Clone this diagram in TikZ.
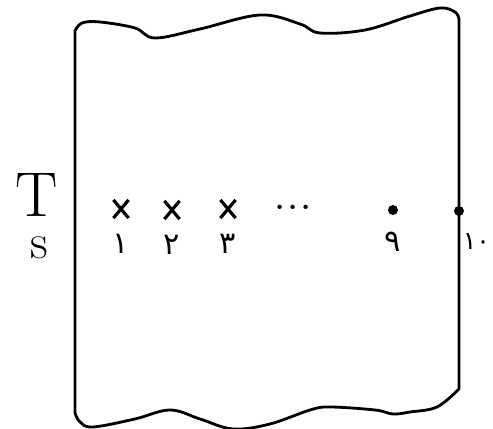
\documentclass[tikz,border=0pt]{standalone}
\usepackage{fontspec}
\usepackage{tikz}
\usetikzlibrary{shapes.misc,positioning}
\newfontfamily\arabicfont[Script=Arabic]{DejaVu Sans}
\tikzset{
  sheet/.style={draw=black,line width=1.6pt,line join=round,line cap=round},
  crossmark/.style={cross out,draw=black,line width=1.8pt,
                    minimum width=0.24cm,minimum height=0.3cm,inner sep=0pt},
  dotmark/.style={circle,fill=black,minimum size=0.2cm,inner sep=0pt},
  digit/.style={font=\arabicfont\LARGE,inner sep=1pt},
  letter/.style={inner sep=0pt,align=left,font=\fontsize{36}{24}\selectfont}
}
\begin{document}
\begin{tikzpicture}[x=1cm,y=1cm]
  \useasboundingbox (0,0) rectangle (9.86,8.58);
  % wavy sheet
  \draw[sheet] (1.5,0.32) -- (1.5,7.96)
    -- plot[smooth,tension=0.6] coordinates {(1.5,7.96) (1.64,8.12) (2.0,8.14)
       (2.7,8.02) (3.1,7.82) (4.0,8.0) (5.2,8.28) (6.0,8.1) (6.4,7.92)
       (7.3,7.98) (8.2,8.26) (8.8,8.42) (9.1,8.34) (9.18,8.2)}
    -- (9.18,0.8)
    -- plot[smooth,tension=0.6] coordinates {(9.18,0.8) (8.74,0.44) (8.2,0.34)
       (7.86,0.3) (7.5,0.38) (6.6,0.44) (6.2,0.38) (5.4,0.1) (4.66,0.0)
       (4.0,0.2) (3.4,0.38) (2.7,0.2) (1.86,0.04) (1.6,0.14) (1.5,0.32)};
  % side label
  \node[letter,anchor=north west] (Ts) at (0.3,5.12)
    {T\\\hspace{0.3cm}\fontsize{28}{24}\selectfont s};
  % marks
  \node[crossmark] (m1) at (2.42,4.4) {};
  \node[crossmark] (m2) at (3.44,4.38) {};
  \node[crossmark] (m3) at (4.56,4.4) {};
  \node[font=\fontsize{30}{30}\selectfont] (dots) at (5.86,4.44) {...};
  \node[dotmark] (m9) at (7.86,4.38) {};
  \node[dotmark] (m10) at (9.18,4.36) {};
  % labels
  \node[digit,below=0.28cm of m1] (l1) {۱};
  \node[digit,below=0.28cm of m2] (l2) {۲};
  \node[digit,below=0.28cm of m3] (l3) {۳};
  \node[digit,below=0.3cm of m9] (l9) {۹};
  \node[digit,font=\arabicfont\Large,inner sep=0pt,anchor=west] (l10) at (9.25,3.76) {۱۰};
\end{tikzpicture}
\end{document}
